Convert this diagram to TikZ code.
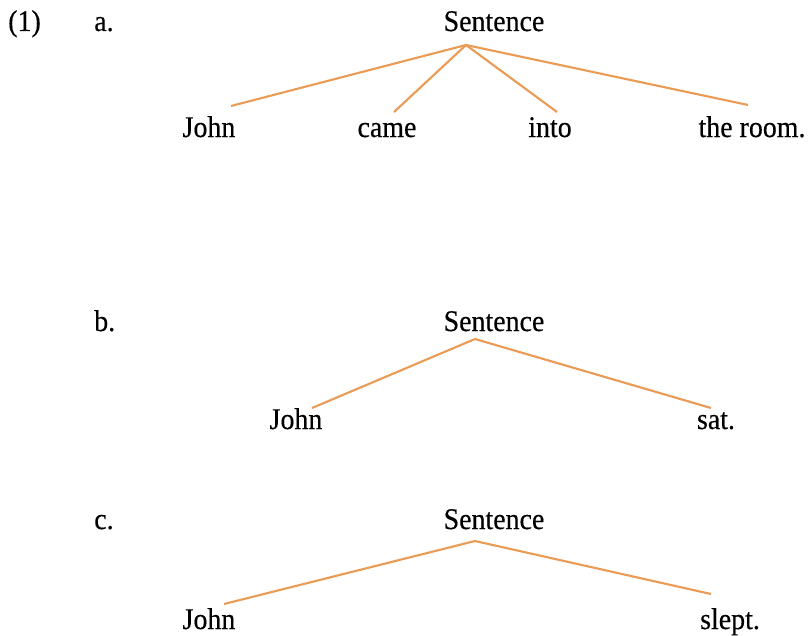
\documentclass[tikz,border=0pt]{standalone}
\usepackage{fontspec}
\setmainfont[FakeStretch=0.93,FakeBold=0.4]{Liberation Serif}
\definecolor{branch}{RGB}{234,156,86}
\begin{document}
\begin{tikzpicture}[x=0.75pt,y=-0.75pt,
  word/.style={anchor=base,inner sep=0pt,font=\fontsize{22.5pt}{26pt}\selectfont},
  edge/.style={draw=branch,line width=1.6pt}]
\useasboundingbox (0,0) rectangle (812,635);

% example number and sub-labels
\node[word,anchor=base west] (num) at (8,31) {(1)};
\node[word,anchor=base west] (la) at (94,31) {a.};
\node[word,anchor=base west] (lb) at (94,331) {b.};
\node[word,anchor=base west] (lc) at (94,529) {c.};

% tree (a)
\node[word] (sa) at (494,31) {Sentence};
\node[word] (a1) at (209,137) {John};
\node[word] (a2) at (387,137) {came};
\node[word] (a3) at (550,137) {into};
\node[word] (a4) at (752,137) {the room.};
\coordinate (ta) at (466,45);
\coordinate (ea1) at (231,106);
\coordinate (ea2) at (394,112);
\coordinate (ea3) at (557,112);
\coordinate (ea4) at (748,105);
\draw[edge] (ea1) -- (ta) -- (ea4);
\draw[edge] (ea2) -- (ta) -- (ea3);

% tree (b)
\node[word] (sb) at (494,331) {Sentence};
\node[word] (b1) at (296,429) {John};
\node[word] (b2) at (716,429) {sat.};
\coordinate (tb) at (475,339);
\coordinate (eb1) at (312,408);
\coordinate (eb2) at (711,408);
\draw[edge] (eb1) -- (tb) -- (eb2);

% tree (c)
\node[word] (sc) at (494,529) {Sentence};
\node[word] (c1) at (209,629) {John};
\node[word] (c2) at (730,629) {slept.};
\coordinate (tc) at (475,541);
\coordinate (ec1) at (224,604);
\coordinate (ec2) at (711,594);
\draw[edge] (ec1) -- (tc) -- (ec2);
\end{tikzpicture}
\end{document}
